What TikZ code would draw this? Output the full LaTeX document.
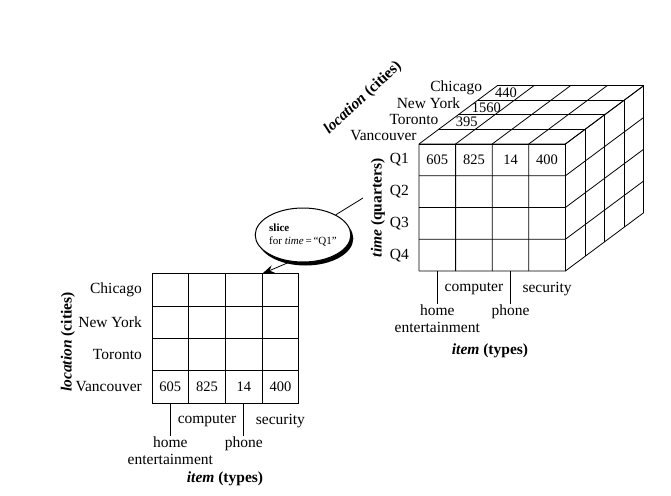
\documentclass[tikz,border=0pt]{standalone}
\usepackage{fontspec}
\setmainfont{Liberation Serif}
\usetikzlibrary{arrows.meta, shapes.geometric, shadows}

\tikzset{
  lbl/.style={inner sep=1pt, font=\fontsize{15.5}{17}\selectfont},
  val/.style={inner sep=1pt, font=\fontsize{14.5}{17}\selectfont},
  axislbl/.style={inner sep=1pt, font=\fontsize{15.5}{18}\selectfont\bfseries},
  gridline/.style={line width=0.8pt},
}

\begin{document}
\begin{tikzpicture}[x=1pt, y=-1pt]
  \useasboundingbox (0,0) rectangle (671,495);

  % the cube: origin at the front bottom left corner
  \begin{scope}[shift={(419,271)}, x={(36.6pt,0pt)}, y={(0pt,31.75pt)}, z={(19.6pt,14.6pt)}]
    \foreach \i in {0,...,4} {
      \draw[gridline] (\i,0,0) -- (\i,4,0) -- (\i,4,4);
      \draw[gridline] (0,\i,0) -- (4,\i,0) -- (4,\i,4);
      \draw[gridline] (0,4,\i) -- (4,4,\i) -- (4,0,\i);
    }
    \foreach \q/\r in {1/3, 2/2, 3/1, 4/0}
      \node[lbl, anchor=east, xshift=-9pt] (cq\q) at (0,\r+0.5,0) {Q\q};
    \foreach \v [count=\c from 0] in {605, 825, 14, 400}
      \node[val] (cf\c) at (\c+0.5,3.5,0) {\v};
    \foreach \v/\k in {395/1, 1560/2, 440/3}
      \node[val] (ct\k) at (0.5,4,\k+0.5) {\v};
    \foreach \city/\k in {Vancouver/0, Toronto/1, New York/2, Chicago/3}
      \node[lbl, anchor=east, xshift={(-11+2.2*\k)*1pt}, yshift={(1.5+1.2*\k)*1pt}] (cc\k) at (0,4,\k+0.5) {\city};
    \coordinate (cb0) at (0.5,0,0);
    \coordinate (cb2) at (2.5,0,0);
    \node[lbl, yshift=-18pt] (cComp) at (1.5,0,0) {computer};
    \node[lbl, yshift=-18pt] (cSec) at (3.5,0,0) {security};
    \node[lbl, anchor=north, align=center, yshift=-33pt] (cHome) at (0.5,0,0) {home\\entertainment};
    \node[lbl, anchor=north, yshift=-33pt] (cPhone) at (2.5,0,0) {phone};
  \end{scope}
  \draw[gridline] (cb0) -- (cHome.north);
  \draw[gridline] (cb2) -- (cPhone.north);
  \node[axislbl, rotate=90] (cTime) at (378,208) {\textit{time} (quarters)};
  \node[axislbl, rotate=43] (cLoc) at (363,98) {\textit{location} (cities)};
  \node[axislbl] (cItem) at (490,351) {\textit{item} (types)};

  % the slice for Q1
  \begin{scope}[shift={(152,403)}, x={(36.7pt,0pt)}, y={(0pt,32.3pt)}]
    \foreach \i in {0,...,4} {
      \draw[gridline] (\i,0) -- (\i,4);
      \draw[gridline] (0,\i) -- (4,\i);
    }
    \foreach \v [count=\c from 0] in {605, 825, 14, 400}
      \node[val] (sf\c) at (\c+0.5,0.5) {\v};
    \foreach \city [count=\r from 0] in {Vancouver, Toronto, New York, Chicago}
      \node[lbl, anchor=east, xshift=-9pt] (sc\r) at (0,\r+0.5) {\city};
    \coordinate (sb0) at (0.5,0);
    \coordinate (sb2) at (2.5,0);
    \coordinate (sTop) at (3,4);
    \node[lbl, yshift=-18pt] (sComp) at (1.5,0) {computer};
    \node[lbl, yshift=-18pt] (sSec) at (3.5,0) {security};
    \node[lbl, anchor=north, align=center, yshift=-33pt] (sHome) at (0.5,0) {home\\entertainment};
    \node[lbl, anchor=north, yshift=-33pt] (sPhone) at (2.5,0) {phone};
  \end{scope}
  \draw[gridline] (sb0) -- (sHome.north);
  \draw[gridline] (sb2) -- (sPhone.north);
  \node[axislbl, rotate=90] (sLoc) at (68,342) {\textit{location} (cities)};
  \node[axislbl] (sItem) at (225,479) {\textit{item} (types)};

  % the slice operation
  \node[ellipse, draw, line width=1pt, fill=white, minimum width=87pt, minimum height=54pt,
        inner sep=0pt, align=left, font=\fontsize{11}{12.5}\selectfont,
        drop shadow={shadow xshift=2.5pt, shadow yshift=-3.5pt, fill=black, opacity=1}]
    (slice) at (303,235) {\textbf{slice}\\for \textit{time}\,=\,“Q1”};
  \coordinate (cubeEnd) at (363,198);
  \draw[gridline] (slice) -- (cubeEnd);
  \draw[gridline, -{Stealth[length=12pt, width=8pt]}] (slice.245) -- (sTop);
\end{tikzpicture}
\end{document}
